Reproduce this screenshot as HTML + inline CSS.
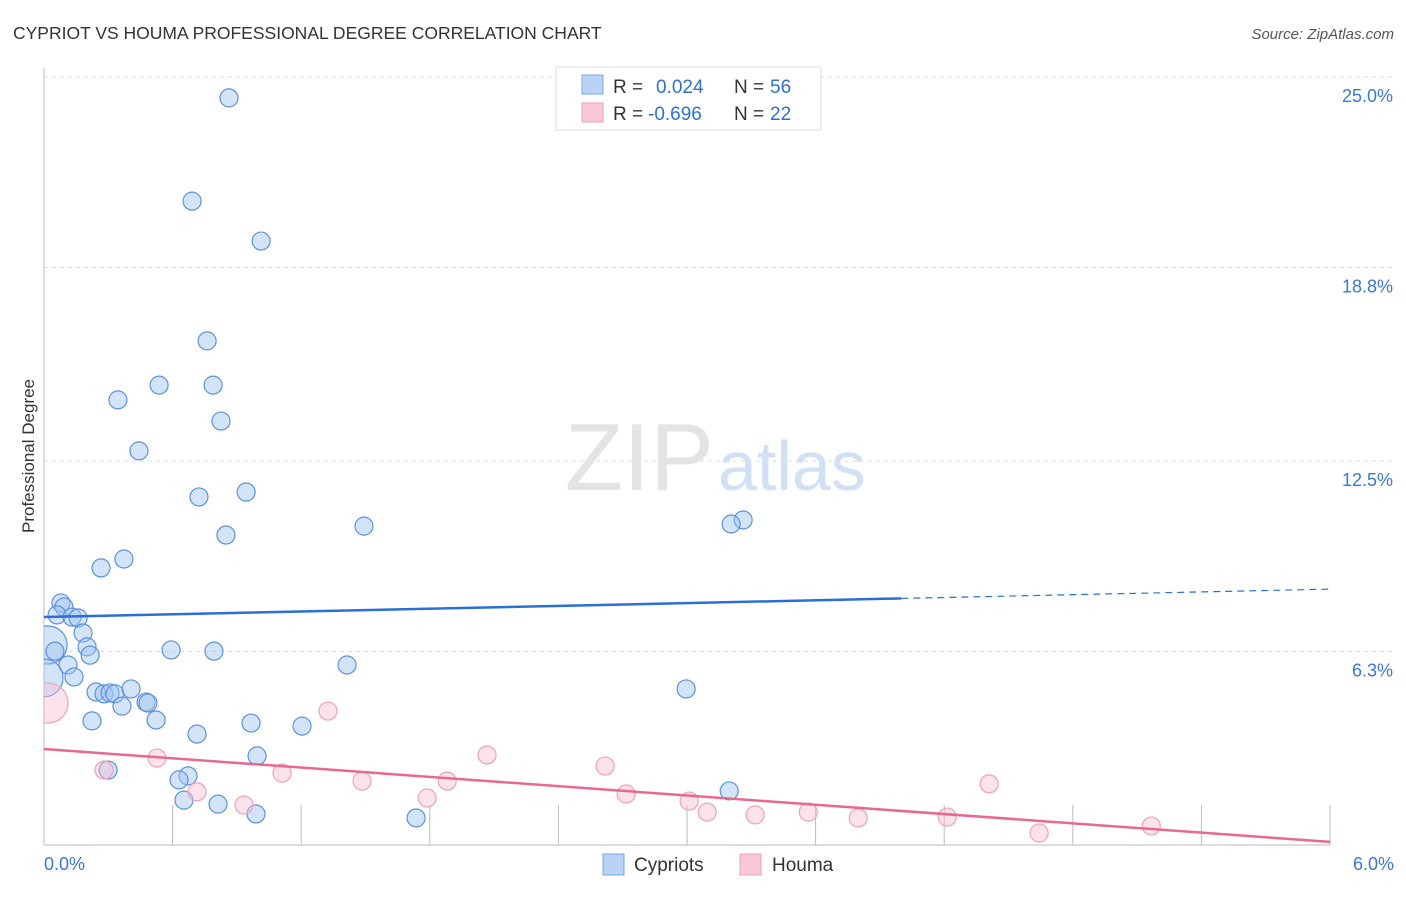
<!DOCTYPE html>
<html><head><meta charset="utf-8"><style>
body{margin:0;background:#fff;font-family:"Liberation Sans",sans-serif;}
svg text{font-family:"Liberation Sans",sans-serif;}
</style></head><body>
<svg id="c" width="1406" height="892">
<defs><clipPath id="pa"><rect x="44" y="60" width="1362" height="790"/></clipPath></defs>
<text x="13" y="39" font-size="17.5" fill="#333">CYPRIOT VS HOUMA PROFESSIONAL DEGREE CORRELATION CHART</text>
<text x="1394" y="39" font-size="15" fill="#555" text-anchor="end" font-style="italic">Source: ZipAtlas.com</text>
<text x="34" y="456" font-size="17" fill="#333" text-anchor="middle" transform="rotate(-90 34 456)">Professional Degree</text>
<g id="grid"></g>
<text x="714" y="490" font-size="96" fill="#e4e4e4" text-anchor="end" font-family="Liberation Serif">ZIP</text>
<text x="718" y="490" font-size="70" fill="#d2e0f4">atlas</text>
<g id="pts" clip-path="url(#pa)"></g><g id="lines"></g>
<g>
<rect x="556" y="67" width="265" height="63" fill="#fff" stroke="#ddd"/>
<rect x="582" y="75" width="21" height="19" fill="#b8d3f5" stroke="#7aa8e6"/>
<rect x="582" y="103" width="21" height="19" fill="#f9c8d6" stroke="#f0a0b8"/>
<text x="613" y="93" font-size="19" fill="#333">R = <tspan fill="#2f6fd1" x="656">0.024</tspan><tspan fill="#333" x="734">N =</tspan><tspan fill="#2f6fd1" x="770">56</tspan></text>
<text x="613" y="120" font-size="19" fill="#333">R = <tspan fill="#2f6fd1" x="648">-0.696</tspan><tspan fill="#333" x="734">N =</tspan><tspan fill="#2f6fd1" x="770">22</tspan></text>
</g>
<g>
<rect x="603" y="854" width="21" height="21" fill="#b8d3f5" stroke="#7aa8e6"/>
<text x="634" y="871" font-size="19" fill="#333">Cypriots</text>
<rect x="740" y="854" width="21" height="21" fill="#f9c8d6" stroke="#f0a0b8"/>
<text x="772" y="871" font-size="19" fill="#333">Houma</text>
</g>
</svg>
<script>
const yTicks=[25,18.8,12.5,6.3];
const yTickLabels=["25.0%","18.8%","12.5%","6.3%"];
const xTickLabels=["0.0%","6.0%"];
const cypX=[0.863,0.691,1.013,0.761,0.537,0.789,0.345,0.826,0.443,0.943,0.723,1.493,3.262,3.206,0.849,0.373,0.266,0.079,0.093,0.061,0.131,0.159,0.182,0.019,0.051,0.201,0.215,0.593,0.793,1.414,0.112,0.140,0,0.243,0.280,0.308,0.331,0.406,0.476,0.485,0.364,2.996,0.523,0.224,0.966,1.204,0.714,0.994,0.299,0.672,0.630,3.197,0.653,0.812,0.989,1.736];
const cypY=[24.32,20.96,19.66,16.41,14.97,14.97,14.49,13.80,12.83,11.49,11.33,10.38,10.58,10.45,10.09,9.31,9.02,7.88,7.75,7.49,7.42,7.39,6.90,6.51,6.31,6.45,6.18,6.35,6.31,5.86,5.86,5.47,5.44,4.98,4.92,4.95,4.92,5.08,4.65,4.62,4.52,5.08,4.07,4.04,3.97,3.87,3.61,2.90,2.44,2.25,2.12,1.76,1.46,1.33,1.01,0.88];
const houX=[0.019,1.325,0.280,0.527,2.067,2.618,1.111,0.714,1.484,1.881,1.788,2.716,0.933,3.010,3.094,3.318,3.566,3.799,4.214,4.410,4.643,5.166];
const houY=[4.62,4.36,2.44,2.83,2.93,2.57,2.34,1.73,2.08,2.08,1.53,1.66,1.30,1.43,1.07,0.98,1.07,0.88,0.91,1.99,0.39,0.62];
const cypTrend=[7.42,8.33];
const houTrend=[3.125,0.1];
const X=v=>44+v/6*1286, Y=v=>845-v/6.25*192;
const NS="http://www.w3.org/2000/svg";
function mk(t,a,p){const e=document.createElementNS(NS,t);for(const k in a)e.setAttribute(k,a[k]);p.appendChild(e);return e;}
const svg=document.getElementById('c'),grid=document.getElementById('grid'),pts=document.getElementById('pts'),lines=document.getElementById('lines');
yTicks.forEach((t,i)=>{
 const l=mk('line',{x1:44,x2:1394,y1:Y(t),y2:Y(t),stroke:'#ddd','stroke-dasharray':'4,4'},grid);
 
 
 const tx=mk('text',{x:1393,y:Y(t)+25,'font-size':18,fill:'#3a78d6','text-anchor':'end'},svg);
 tx.textContent=yTickLabels[i];
 
 
});
const ax=mk('line',{x1:44,x2:44,y1:68,y2:845,stroke:'#bbb'},grid);


const bx=mk('line',{x1:44,x2:1330,y1:845,y2:845,stroke:'#bbb'},grid);


for(let i=1;i<=10;i++){const t=mk('line',{x1:X(i*0.6),x2:X(i*0.6),y1:805,y2:845,stroke:'#bbb'},grid);
 
 }
[[0,44,'start'],[6,1394,'end']].forEach((d,i)=>{const t=mk('text',{x:d[1],y:870,'font-size':18,fill:'#3a78d6','text-anchor':d[2]},svg);t.textContent=xTickLabels[i];
 
 });
cypX.forEach((x,i)=>{const r=(i==23||i==32)?19:9;
 const c=mk('circle',{cx:X(x),cy:Y(cypY[i]),r:r,fill:'rgba(160,196,240,0.45)',stroke:'#5b92dc','stroke-width':1.2},pts);
 
 });
houX.forEach((x,i)=>{const r=i==0?20:9;
 const c=mk('circle',{cx:X(x),cy:Y(houY[i]),r:r,fill:'rgba(248,190,208,0.45)',stroke:'#f0a0b8','stroke-width':1.2},pts);
 
 });
const yb=x=>cypTrend[0]+(cypTrend[1]-cypTrend[0])*x/6;
const l1=mk('line',{x1:X(0),y1:Y(yb(0)),x2:X(4),y2:Y(yb(4)),stroke:'#2a6fd6','stroke-width':2.5},lines);


const l2=mk('line',{x1:X(4),y1:Y(yb(4)),x2:X(6),y2:Y(yb(6)),stroke:'#2a6fd6','stroke-width':1.2,'stroke-dasharray':'7,5'},lines);


const l3=mk('line',{x1:X(0),y1:Y(houTrend[0]),x2:X(6),y2:Y(houTrend[1]),stroke:'#e8688f','stroke-width':2.5},lines);


</script>
</body></html>
